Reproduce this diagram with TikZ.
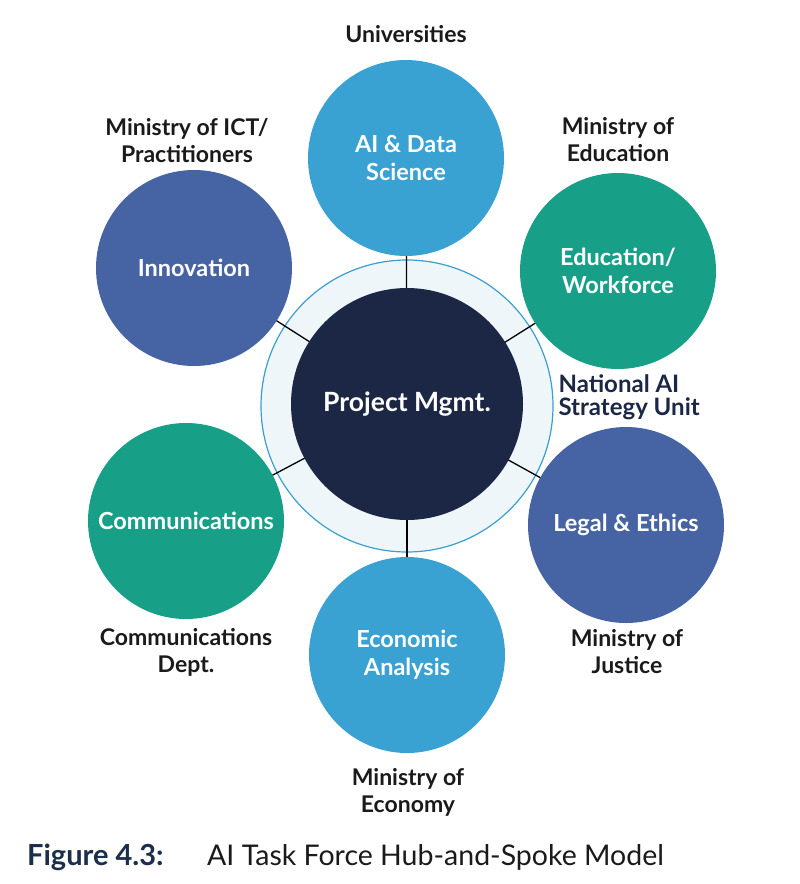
\documentclass[tikz,border=0pt]{standalone}
\usepackage{fontspec}
\setmainfont{Lato}
\definecolor{skyb}{HTML}{3AA1D3}
\definecolor{tealg}{HTML}{17A087}
\definecolor{slateb}{HTML}{4663A4}
\definecolor{navyd}{HTML}{1B2744}
\definecolor{ringfill}{HTML}{EEF6FA}
\definecolor{ringline}{HTML}{3A9FD0}
\definecolor{captxt}{HTML}{1B2E4B}
\definecolor{labtxt}{HTML}{1A1A1A}
\begin{document}
\begin{tikzpicture}[x=1pt,y=-1pt,
  sat/.style={circle,minimum size=196pt,inner sep=0pt,text=white,font=\fontsize{23.5}{28}\selectfont\bfseries,align=center},
  lab/.style={font=\fontsize{23}{27}\selectfont\bfseries,align=center,text=labtxt},
  spoke/.style={draw=black,line width=1.3pt}]
\useasboundingbox (0,0) rectangle (800,884);
% ring
\node[circle,minimum size=292pt,inner sep=0pt,fill=ringfill,draw=ringline,line width=1.2pt] (ring) at (407,406) {};
% satellites (positions)
\coordinate (cAI) at (406,158);
\coordinate (cED) at (618,271);
\coordinate (cLE) at (626,525);
\coordinate (cEC) at (407,655);
\coordinate (cCO) at (186,521);
\coordinate (cIN) at (194,268);
\node[circle,minimum size=232pt,inner sep=0pt] (hubshape) at (407,404) {};
\foreach \c in {cAI,cED,cLE,cEC,cCO,cIN}{\draw[spoke] (hubshape.center) -- (\c);}
\node[circle,minimum size=232pt,inner sep=0pt,fill=navyd,text=white,font=\fontsize{26.5}{30}\selectfont\bfseries] (hub) at (407,404) {Project Mgmt.};
\node[sat,fill=skyb] (ai) at (cAI) {AI \& Data\\Science};
\node[sat,fill=tealg] (ed) at (cED) {Education/\\Workforce};
\node[sat,fill=slateb] (le) at (cLE) {Legal \& Ethics};
\node[sat,fill=skyb] (ec) at (cEC) {Economic\\Analysis};
\node[sat,fill=tealg] (co) at (cCO) {Communications};
\node[sat,fill=slateb] (in) at (cIN) {Innovation};
% labels
\node[lab] (l1) at (406,34) {Universities};
\node[lab] (l2) at (187,141) {Ministry of ICT/\\Practitioners};
\node[lab] (l3) at (618,140) {Ministry of\\Education};
\node[lab,align=left,anchor=west,text=navyd,font=\fontsize{24}{23}\selectfont\bfseries] (l4) at (555,397) {National AI\\Strategy Unit};
\node[lab] (l5) at (627,652) {Ministry of\\Justice};
\node[lab] (l6) at (408,792) {Ministry of\\Economy};
\node[lab] (l7) at (186,652) {Communications\\Dept.};
% caption
\node[anchor=west,inner sep=0pt,text=captxt,font=\fontsize{29}{32}\selectfont\bfseries] (cap1) at (27,857) {Figure 4.3:};
\node[anchor=west,inner sep=0pt,text=labtxt,font=\fontsize{28.5}{32}\selectfont] (cap2) at (207,857) {AI Task Force Hub-and-Spoke Model};
\end{tikzpicture}
\end{document}
